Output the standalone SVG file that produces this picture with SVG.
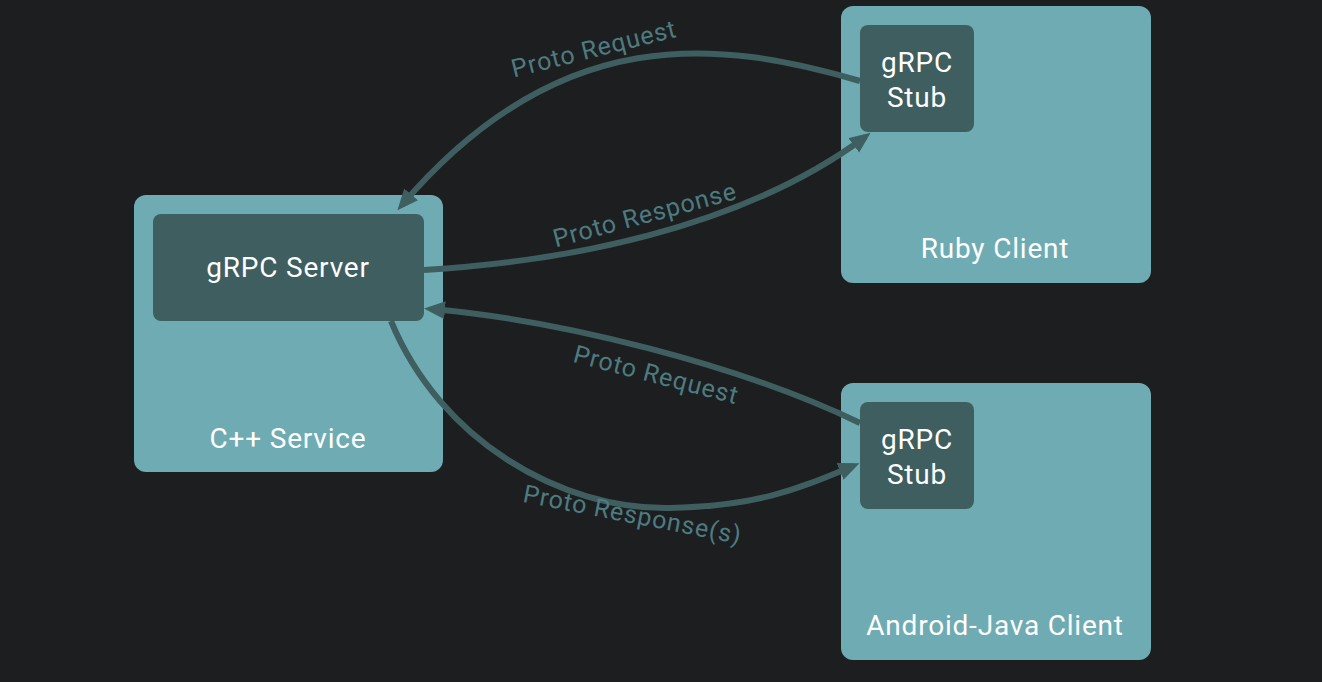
<svg xmlns="http://www.w3.org/2000/svg" width="1322" height="682" viewBox="0 0 1322 682">
<defs>
<style>
.outer{fill:#6fabb2}
.inner{fill:#3e5e5f}
.t{font-family:Roboto,"Liberation Sans",sans-serif;fill:#ffffff;text-anchor:middle;font-size:28px;letter-spacing:0.8px}
.lbl{font-family:Roboto,"Liberation Sans",sans-serif;fill:#4d7c80;font-size:25px;letter-spacing:0.9px;text-anchor:middle}
.edge{fill:none;stroke:#3e5e5f;stroke-width:6}
</style>
<marker id="arr" markerWidth="22" markerHeight="20" refX="14" refY="9" orient="auto" markerUnits="userSpaceOnUse" viewBox="0 0 22 20">
<path d="M0,0 L21,9 L0,18 Z" fill="#3e5e5f"/>
</marker>
</defs>
<rect width="1322" height="682" fill="#1d1e20"/>
<g id="cpp-service">
<rect class="outer" x="134" y="195" width="309" height="277" rx="12"/>
<text class="t" x="288" y="448">C++ Service</text>
</g>
<g id="grpc-server">
<rect class="inner" x="153" y="214" width="271" height="107" rx="8"/>
<text class="t" x="288" y="277">gRPC Server</text>
</g>
<g id="ruby-client">
<rect class="outer" x="841" y="6" width="310" height="277" rx="12"/>
<text class="t" x="995" y="258">Ruby Client</text>
</g>
<g id="ruby-stub">
<rect class="inner" x="860" y="25" width="114" height="107" rx="8"/>
<text class="t" x="917" y="72">gRPC</text>
<text class="t" x="917" y="107">Stub</text>
</g>
<g id="android-client">
<rect class="outer" x="841" y="383" width="310" height="277" rx="12"/>
<text class="t" x="995" y="635">Android-Java Client</text>
</g>
<g id="android-stub">
<rect class="inner" x="860" y="402" width="114" height="107" rx="8"/>
<text class="t" x="917" y="449">gRPC</text>
<text class="t" x="917" y="484">Stub</text>
</g>
<g id="connectors">
<path class="edge" d="M860,81 C720,40 560,20 402,205" marker-end="url(#arr)"/>
<path class="edge" d="M424,270 C560,262 740,230 865,137" marker-end="url(#arr)"/>
<path class="edge" d="M860,423 C740,365 560,320 431,309" marker-end="url(#arr)"/>
<path class="edge" d="M391,321 C440,440 560,510 670,508 C760,506 800,488 853,466" marker-end="url(#arr)"/>
<text class="lbl" transform="translate(596,57) rotate(-14)">Proto Request</text>
<text class="lbl" transform="translate(647,223) rotate(-15)">Proto Response</text>
<text class="lbl" transform="translate(654,383) rotate(14.6)">Proto Request</text>
<text class="lbl" transform="translate(631,523) rotate(11)">Proto Response(s)</text>
</g>
</svg>
